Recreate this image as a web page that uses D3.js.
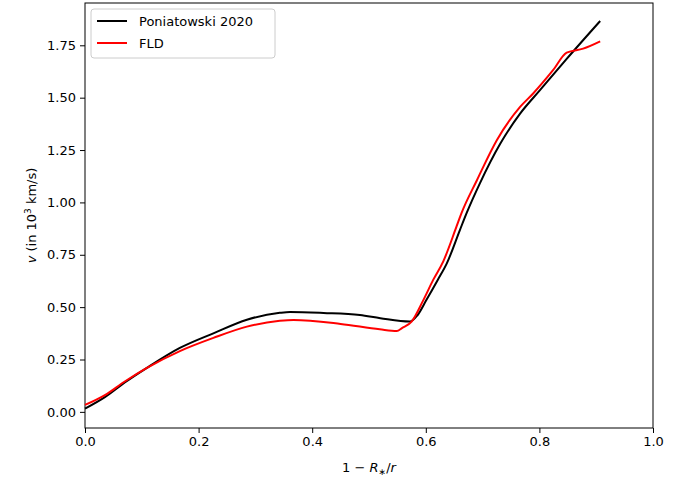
<!DOCTYPE html>
<html>
<head>
<meta charset="utf-8">
<script src="https://cdn.jsdelivr.net/npm/d3@7"></script>
<style>
  body { margin: 0; background: #fff; }
  text { font-family: "DejaVu Sans", sans-serif; }
</style>
</head>
<body>
<svg id="chart"></svg>
<script>
// Poniatowski 2020 curve
const ponX = [0, 0.035, 0.07, 0.109, 0.167, 0.226, 0.285, 0.343, 0.361, 0.42, 0.484, 0.52, 0.572, 0.585, 0.601, 0.621, 0.637, 0.66, 0.672, 0.695, 0.731, 0.766, 0.801, 0.848, 0.907];
const ponV = [0.015, 0.07, 0.14, 0.21, 0.305, 0.375, 0.44, 0.473, 0.477, 0.472, 0.462, 0.447, 0.431, 0.46, 0.534, 0.63, 0.709, 0.868, 0.95, 1.09, 1.28, 1.424, 1.536, 1.685, 1.866];

// FLD curve
const fldX = [0, 0.035, 0.07, 0.109, 0.167, 0.226, 0.285, 0.343, 0.367, 0.45, 0.519, 0.549, 0.558, 0.575, 0.595, 0.613, 0.631, 0.654, 0.663, 0.69, 0.725, 0.766, 0.789, 0.824, 0.848, 0.877, 0.907];
const fldV = [0.033, 0.08, 0.145, 0.21, 0.29, 0.353, 0.407, 0.435, 0.439, 0.42, 0.394, 0.386, 0.4, 0.431, 0.53, 0.63, 0.72, 0.884, 0.95, 1.106, 1.297, 1.456, 1.52, 1.631, 1.715, 1.734, 1.769];

const xTicks = [0, 0.2, 0.4, 0.6, 0.8, 1.0];
const yTicks = [0, 0.25, 0.5, 0.75, 1.0, 1.25, 1.5, 1.75];

const width = 686, height = 479;
const padL = 85, padR = 653, padT = 3, padB = 428;

const svg = d3.select("#chart").attr("width", width).attr("height", height);

const x = d3.scaleLinear().domain([0, 1]).range([padL, padR]);
const y = d3.scaleLinear().domain([-0.077, 1.952]).range([padB, padT]);

// axes
const xAxis = svg.append("g")
  .attr("transform", `translate(0,${padB})`)
  .call(d3.axisBottom(x).tickValues(xTicks).tickFormat(d3.format(".1f")).tickSizeInner(5).tickSizeOuter(0).tickPadding(4));

const yAxis = svg.append("g")
  .attr("transform", `translate(${padL},0)`)
  .call(d3.axisLeft(y).tickValues(yTicks).tickFormat(d3.format(".2f")).tickSizeInner(5).tickSizeOuter(0).tickPadding(4));

[xAxis, yAxis].forEach(a => {
  a.select(".domain").remove();
  a.selectAll("text").attr("font-size", 13).attr("fill", "#000").style("font-family", "DejaVu Sans");
  a.selectAll("line").attr("stroke", "#000").attr("stroke-width", 1);
});

// frame
svg.append("rect")
  .attr("x", padL).attr("y", padT)
  .attr("width", padR - padL).attr("height", padB - padT)
  .attr("fill", "none").attr("stroke", "#000").attr("stroke-width", 1);

// lines
const line = d3.line()
  .x(d => x(d[0]))
  .y(d => y(d[1]))
  .curve(d3.curveMonotoneX);

svg.append("path")
  .datum(ponX.map((d, i) => [d, ponV[i]]))
  .attr("d", line)
  .attr("fill", "none")
  .attr("stroke", "#000")
  .attr("stroke-width", 2);

svg.append("path")
  .datum(fldX.map((d, i) => [d, fldV[i]]))
  .attr("d", line)
  .attr("fill", "none")
  .attr("stroke", "#ff0000")
  .attr("stroke-width", 2);

// axis labels
const xl = svg.append("text")
  .attr("x", (padL + padR) / 2)
  .attr("y", 472)
  .attr("text-anchor", "middle")
  .attr("font-size", 13);
xl.append("tspan").text("1 \u2212 ");
xl.append("tspan").attr("font-style", "italic").text("R");
xl.append("tspan").attr("font-size", 9).attr("dy", 3).text("\u2217");
xl.append("tspan").attr("dy", -3).text("/");
xl.append("tspan").attr("font-style", "italic").text("r");

const yl = svg.append("text")
  .attr("transform", `translate(36,${(padT + padB) / 2}) rotate(-90)`)
  .attr("text-anchor", "middle")
  .attr("font-size", 13);
yl.append("tspan").attr("font-style", "italic").text("v");
yl.append("tspan").text(" (in 10");
yl.append("tspan").attr("font-size", 9).attr("dy", -5).text("3");
yl.append("tspan").attr("dy", 5).text(" km/s)");

// legend
const legend = svg.append("g");
legend.append("rect")
  .attr("x", 91).attr("y", 9)
  .attr("width", 184).attr("height", 49)
  .attr("rx", 3)
  .attr("fill", "#fff").attr("fill-opacity", 0.8)
  .attr("stroke", "#cccccc");

const entries = [
  { name: "Poniatowski 2020", color: "#000" },
  { name: "FLD", color: "#ff0000" }
];
entries.forEach((e, i) => {
  const cy = 21 + i * 22;
  legend.append("line")
    .attr("x1", 97).attr("x2", 127)
    .attr("y1", cy).attr("y2", cy)
    .attr("stroke", e.color).attr("stroke-width", 2);
  legend.append("text")
    .attr("x", 139).attr("y", cy + 5)
    .attr("font-size", 13)
    .text(e.name);
});
</script>
</body>
</html>
